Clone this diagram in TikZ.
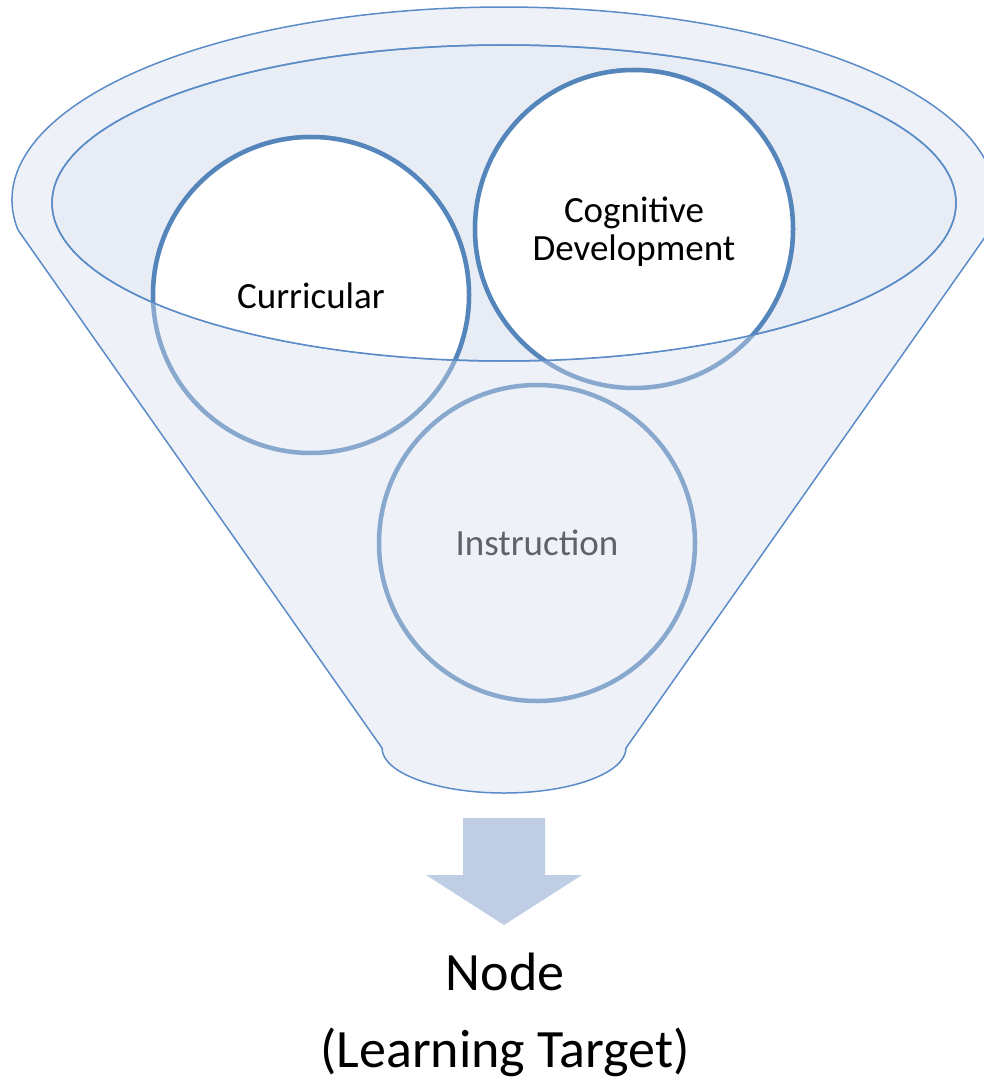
\documentclass[tikz,border=0pt]{standalone}
\usepackage{fontspec}
\setmainfont{Carlito}
\usepackage{tikz}

\definecolor{funnelline}{RGB}{91,140,200}
\definecolor{funnelfill}{RGB}{238,242,248}
\definecolor{innerfill}{RGB}{232,236,245}
\definecolor{ringdark}{RGB}{84,133,187}
\definecolor{ringlight}{RGB}{137,168,206}
\definecolor{arrowfill}{RGB}{191,206,228}
\definecolor{graytext}{RGB}{95,99,104}

\begin{document}
\begin{tikzpicture}[x=1pt,y=1pt,
    funnel/.style={draw=funnelline,line width=1.5pt},
    ring/.style={line width=4.5pt},
    ringtext/.style={font=\fontsize{37}{38}\selectfont,align=center},
    target/.style={font=\fontsize{54}{77}\selectfont,align=center}]
    \useasboundingbox (0,0) rectangle (984,-1083);
    % funnel body and mouth
    \filldraw[funnel,fill=funnelfill] (18,-230)
      arc[start angle=188.94,end angle=-8.94,x radius=492,y radius=193]
      -- (626,-748)
      arc[start angle=0,end angle=-180,x radius=122,y radius=45]
      -- cycle;
    \filldraw[funnel,fill=innerfill] (504,-203)
      ellipse[x radius=452,y radius=158];
    % the three circles, seen through the funnel
    \coordinate (curr) at (311,-295);
    \coordinate (cogn) at (634,-229);
    \coordinate (instr) at (537,-543);
    \draw[ring,ringlight] (curr) circle[radius=158];
    \draw[ring,ringlight] (cogn) circle[radius=159];
    \draw[ring,ringlight] (instr) circle[radius=158];
    \begin{scope}
      \clip (504,-203) ellipse[x radius=452,y radius=158];
      \filldraw[ring,draw=ringdark,fill=white] (curr) circle[radius=158];
      \filldraw[ring,draw=ringdark,fill=white] (cogn) circle[radius=159];
    \end{scope}
    \draw[funnel] (504,-203) ellipse[x radius=452,y radius=158];
    \node[ringtext,anchor=base] (currtext) at (311,-308) {Curricular};
    \node[ringtext,anchor=base] (cogntext) at (634,-260) {Cognitive\\Development};
    \node[ringtext,anchor=base,text=graytext] (instrtext) at (537,-555) {Instruction};
    % block arrow down to the target
    \fill[arrowfill] (463,-818) -- (545,-818) -- (545,-875) -- (582,-875)
      -- (504,-925) -- (426,-875) -- (463,-875) -- cycle;
    \node[target,anchor=base] (goal) at (505,-1067) {Node\\(Learning Target)};
\end{tikzpicture}
\end{document}
